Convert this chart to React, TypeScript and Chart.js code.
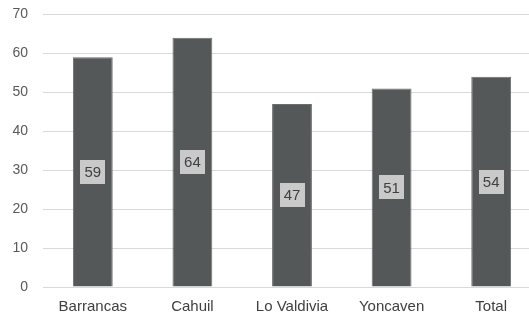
import React, { useEffect, useRef } from "react";
import { Chart, registerables } from "chart.js";

Chart.register(...registerables);

const categories = ["Barrancas", "Cahuil", "Lo Valdivia", "Yoncaven", "Total"];
const values = [59, 64, 47, 51, 54];
const yTicks = [0, 10, 20, 30, 40, 50, 60, 70];

const FONT = "'Liberation Sans', Arial, sans-serif";

const labelPlugin = {
  id: "centerLabels",
  afterDatasetsDraw(chart: any) {
    const ctx = chart.ctx;
    const meta = chart.getDatasetMeta(0);
    ctx.save();
    ctx.font = `15px ${FONT}`;
    ctx.textAlign = "center";
    ctx.textBaseline = "middle";
    meta.data.forEach((bar: any, i: number) => {
      const cx = bar.x;
      const cy = (bar.y + bar.base) / 2;
      const w = 25;
      const h = 24;
      ctx.fillStyle = "#c9c9c9";
      ctx.fillRect(Math.round(cx - w / 2), Math.round(cy - h / 2), w, h);
      ctx.fillStyle = "#404040";
      ctx.fillText(String(values[i]), cx, cy + 1);
    });
    ctx.restore();
  },
};

export default function App() {
  const ref = useRef<HTMLCanvasElement>(null);
  useEffect(() => {
    if (!ref.current) return;
    const chart = new Chart(ref.current, {
      type: "bar",
      data: {
        labels: categories,
        datasets: [
          {
            data: values,
            backgroundColor: "#555859",
            borderColor: "#6a6d6e",
            borderWidth: 1,
            barPercentage: 0.4,
            categoryPercentage: 1,
          },
        ],
      },
      options: {
        animation: false,
        responsive: true,
        maintainAspectRatio: false,
        layout: { padding: { top: -3, bottom: 0, left: 0, right: 0 } },
        plugins: { legend: { display: false }, tooltip: { enabled: false } },
        scales: {
          x: {
            grid: { display: false, drawTicks: false },
            border: { display: false },
            ticks: { color: "#404040", font: { family: FONT, size: 15 }, padding: 11 },
          },
          y: {
            min: 0,
            max: 70,
            afterBuildTicks: (s: any) => {
              s.ticks = yTicks.map((v) => ({ value: v }));
            },
            afterFit: (s: any) => {
              s.width = 43;
            },
            grid: { color: "#d9d9d9", drawTicks: false, lineWidth: 1 },
            border: { display: false },
            ticks: { color: "#595959", font: { family: FONT, size: 14 }, padding: 15 },
          },
        },
      },
      plugins: [labelPlugin],
    });
    return () => chart.destroy();
  }, []);
  return (
    <div style={{ position: "fixed", left: 0, top: 0, width: 529, height: 317, overflow: "hidden", background: "#fff" }}>
      <div style={{ position: "absolute", left: 0, top: -9, width: 541, height: 336 }}>
        <canvas ref={ref} />
      </div>
    </div>
  );
}
